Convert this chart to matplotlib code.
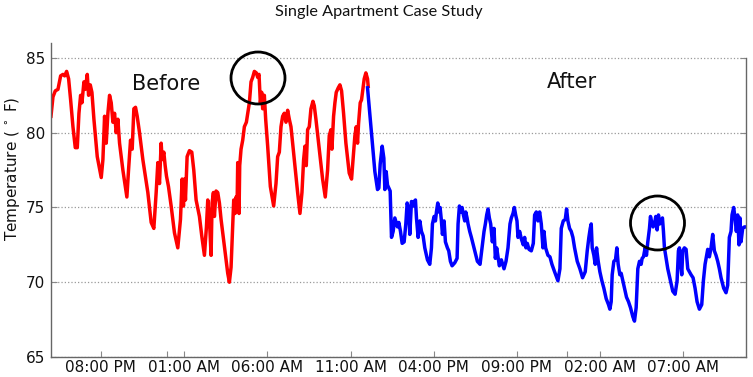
import numpy as np
import matplotlib
matplotlib.use("Agg")
import matplotlib.pyplot as plt
import matplotlib.dates as mdates
from matplotlib.patches import Ellipse
from datetime import datetime, timedelta

# ---- data ----
start_time = datetime(2014, 7, 14, 17, 0)   # 05:00 PM

before_hours = [0.00, 0.12, 0.26, 0.42, 0.58, 0.72, 0.82, 0.94, 1.06, 1.18, 1.32, 1.46, 1.58, 1.68, 1.78,
                1.86, 1.98, 2.06, 2.18, 2.26, 2.36, 2.46, 2.58, 2.78, 3.02, 3.12, 3.22, 3.32, 3.42, 3.52,
                3.62, 3.72, 3.82, 3.92, 4.02, 4.12, 4.32, 4.56, 4.66, 4.78, 4.88, 4.98, 5.08, 5.18, 5.32,
                5.52, 5.82, 6.02, 6.18, 6.32, 6.42, 6.52, 6.62, 6.68, 6.78, 6.86, 6.94, 7.06, 7.22, 7.42,
                7.62, 7.78, 7.88, 7.96, 8.02, 8.08, 8.18, 8.32, 8.46, 8.58, 8.72, 8.92, 9.06, 9.22, 9.34,
                9.42, 9.52, 9.62, 9.68, 9.76, 9.82, 9.92, 10.02, 10.12, 10.22, 10.42, 10.62, 10.72, 10.82,
                10.92, 10.98, 11.06, 11.12, 11.18, 11.22, 11.30, 11.34, 11.42, 11.52, 11.62, 11.74, 11.82,
                11.92, 12.02, 12.12, 12.22, 12.34, 12.42, 12.50, 12.58, 12.66, 12.72, 12.82, 12.90, 13.02,
                13.18, 13.38, 13.52, 13.62, 13.72, 13.82, 13.92, 14.02, 14.12, 14.22, 14.32, 14.42, 14.62,
                14.82, 14.96, 15.08, 15.18, 15.26, 15.34, 15.42, 15.52, 15.62, 15.74, 15.82, 15.92, 16.12,
                16.32, 16.48, 16.62, 16.72, 16.82, 16.88, 16.98, 17.06, 17.14, 17.26, 17.36, 17.46, 17.58,
                17.72, 17.92, 18.06, 18.18, 18.26, 18.34, 18.42, 18.48, 18.58, 18.66, 18.74, 18.82, 18.92,
                19.02, 19.06]
before_temp = [81.1, 82.4, 82.8, 82.9, 83.8, 83.9, 83.8, 84.1, 83.6, 82.2, 80.4, 79.0, 79.0, 81.3, 82.5,
               82.0, 83.4, 82.9, 83.9, 82.5, 83.2, 82.7, 80.9, 78.4, 77.0, 78.2, 81.1, 79.3, 81.3, 82.5,
               82.0, 80.7, 81.3, 80.0, 80.9, 79.3, 77.5, 75.7, 77.5, 79.5, 78.9, 81.6, 81.7, 81.1, 80.0,
               78.2, 76.0, 74.0, 73.6, 76.0, 78.0, 76.6, 79.3, 78.2, 78.7, 77.8, 77.1, 76.4, 75.1, 73.3,
               72.3, 74.2, 76.9, 75.1, 76.9, 75.5, 78.4, 78.8, 78.7, 77.5, 75.5, 74.4, 73.1, 71.8, 73.7,
               75.5, 74.2, 71.8, 75.3, 76.0, 74.4, 76.1, 76.0, 75.3, 74.2, 72.4, 70.6, 70.0, 71.0,
               73.7, 75.5, 74.6, 75.7, 74.9, 78.0, 74.6, 77.8, 78.9, 79.5, 80.4, 80.7, 81.3,
               82.0, 83.4, 83.7, 84.1, 84.0, 83.7, 83.9, 82.0, 82.7, 81.6, 82.5, 80.9, 79.1,
               76.4, 75.1, 76.6, 78.4, 78.7, 80.4, 81.1, 81.3, 80.7, 81.5, 80.9, 80.4, 78.2,
               76.0, 74.6, 76.0, 78.2, 79.1, 77.8, 80.2, 80.4, 81.6, 82.1, 81.8, 80.9, 78.9,
               76.9, 75.7, 77.5, 79.8, 80.2, 78.9, 81.1, 82.0, 82.7, 83.0, 83.2, 82.8, 81.3,
               79.3, 77.3, 76.9, 78.7, 79.8, 80.4, 79.3, 80.6, 82.0, 82.2, 82.9, 83.6, 84.0,
               83.6, 83.1]

after_hours = [19.02, 19.16, 19.30, 19.46, 19.62, 19.70, 19.78, 19.90, 20.00, 20.06, 20.14, 20.22, 20.30,
               20.38, 20.46, 20.56, 20.66, 20.74, 20.82, 20.90, 21.00, 21.10, 21.22, 21.32, 21.40, 21.48,
               21.56, 21.66, 21.76, 21.82, 21.90, 21.96, 22.06, 22.16, 22.26, 22.36, 22.46, 22.62, 22.76,
               22.86, 22.92, 23.02, 23.10, 23.16, 23.24, 23.30, 23.38, 23.46, 23.52, 23.62, 23.70, 23.82,
               23.90, 24.00, 24.10, 24.26, 24.40, 24.46, 24.54, 24.62, 24.70, 24.78, 24.86, 24.92, 25.00,
               25.06, 25.16, 25.26, 25.42, 25.62, 25.78, 25.90, 26.02, 26.10, 26.18, 26.26, 26.34, 26.42,
               26.52, 26.62, 26.70, 26.78, 26.86, 26.94, 27.06, 27.22, 27.34, 27.46, 27.58, 27.66, 27.76,
               27.84, 27.92, 28.00, 28.06, 28.16, 28.26, 28.38, 28.46, 28.54, 28.62, 28.72, 28.86, 28.98,
               29.06, 29.16, 29.26, 29.36, 29.46, 29.56, 29.62, 29.72, 29.86, 29.98, 30.10, 30.26, 30.46,
               30.58, 30.66, 30.78, 30.90, 30.98, 31.06, 31.16, 31.26, 31.36, 31.46, 31.62, 31.78, 31.94,
               32.10, 32.22, 32.32, 32.40, 32.46, 32.52, 32.62, 32.70, 32.78, 32.88, 32.98, 33.10, 33.22,
               33.36, 33.50, 33.58, 33.66, 33.72, 33.82, 33.92, 34.00, 34.08, 34.18, 34.26, 34.36, 34.46,
               34.58, 34.70, 34.82, 34.96, 35.06, 35.16, 35.26, 35.36, 35.46, 35.52, 35.60, 35.70, 35.78,
               35.86, 35.96, 36.02, 36.10, 36.18, 36.26, 36.34, 36.42, 36.50, 36.58, 36.66, 36.74, 36.80,
               36.86, 36.96, 37.06, 37.22, 37.36, 37.50, 37.62, 37.70, 37.76, 37.82, 37.90, 37.96, 38.06,
               38.16, 38.26, 38.36, 38.46, 38.58, 38.70, 38.82, 38.96, 39.10, 39.20, 39.30, 39.38, 39.46,
               39.56, 39.66, 39.76, 39.86, 39.96, 40.06, 40.16, 40.26, 40.42, 40.56, 40.66, 40.76, 40.86,
               40.92, 41.02, 41.10, 41.18, 41.26, 41.34, 41.40, 41.46, 41.56, 41.66, 41.76]
after_temp = [83.0, 81.2, 79.4, 77.4, 76.2, 76.3, 77.9, 79.1, 78.3, 76.2, 77.4, 76.5, 76.3,
              76.1, 73.0, 73.4, 74.3, 74.0, 73.7, 74.0, 73.4, 72.6, 72.7, 73.9, 75.3, 75.0,
              73.2, 75.4, 75.1, 75.4, 75.5, 74.3, 73.0, 74.1, 73.4, 73.1, 72.3, 71.5, 71.2,
              72.3, 73.9, 74.4, 74.1, 74.7, 75.3, 74.7, 75.0, 74.1, 73.2, 74.1, 72.7, 72.3,
              72.1, 71.4, 71.1, 71.3, 71.6, 73.9, 75.1, 74.7, 75.0, 74.5, 74.1, 74.7, 74.3,
              73.9, 73.4, 73.0, 72.3, 71.4, 71.2, 72.3, 73.4, 73.9, 74.5, 74.9, 74.3, 73.9,
              72.7, 73.6, 71.6, 72.3, 71.7, 71.1, 71.5, 70.9, 71.4, 72.3, 73.9, 74.3, 74.6,
              75.0, 74.5, 74.1, 73.0, 73.4, 72.9, 72.5, 73.0, 72.3, 72.6, 72.2, 72.1, 72.6,
              74.5, 74.7, 74.1, 74.7, 73.9, 72.3, 73.4, 72.3, 71.8, 71.7, 71.2, 70.7, 70.1,
              70.9, 73.6, 74.1, 74.2, 74.9, 74.1, 73.6, 73.4, 73.0, 72.3, 71.4, 70.9, 70.3,
              70.7, 72.1, 73.0, 73.6, 73.9, 72.3, 71.8, 71.2, 72.3, 71.4, 70.7, 70.1, 69.6,
              68.9, 68.5, 68.2, 68.7, 70.5, 71.4, 71.5, 72.3, 71.2, 70.5, 70.6, 70.1, 69.6,
              69.0, 68.7, 68.3, 67.7, 67.4, 68.3, 70.9, 71.4, 71.2, 71.6, 71.7, 72.3, 71.8,
              72.7, 73.6, 74.4, 74.0, 73.7, 73.9, 74.4, 73.5, 74.5, 73.9, 74.1, 74.3, 73.4,
              72.3, 71.6, 70.9, 70.1, 69.4, 69.2, 70.1, 72.1, 72.3, 71.4, 70.5, 72.1, 72.3,
              72.2, 70.9, 70.7, 70.5, 70.3, 69.6, 68.7, 68.2, 68.5, 70.1, 71.2, 71.7, 72.2,
              71.7, 72.3, 73.2, 72.1, 71.8, 71.4, 70.9, 70.3, 69.6, 69.3, 69.8, 73.0, 73.4,
              74.5, 75.0, 74.3, 73.4, 74.5, 72.5, 74.3, 72.7, 73.6, 73.7, 73.7]

label_tick_hours = [3, 8, 13, 18, 23, 28, 33, 38]
midnight_tick_hours = [7, 31]
y_ticks = [65, 70, 75, 80, 85]

# ---- plot ----
def to_dates(hours):
    return [start_time + timedelta(hours=h) for h in hours]

plt.rcParams['font.family'] = ['DejaVu Sans']
fig = plt.figure(figsize=(7.53, 3.77), dpi=100)
ax = fig.add_axes([0.0677, 0.053, 0.923, 0.833])

before_x = to_dates(before_hours)
after_x = to_dates(after_hours)
ax.plot(before_x, before_temp, color='#ff0000', lw=2.5, solid_joinstyle='round')
ax.plot(after_x, after_temp, color='#0000ff', lw=2.5, solid_joinstyle='round')

ax.set_xlim(before_x[0], after_x[-1])
ax.set_ylim(65, 86)
ax.set_yticks(y_ticks)
ax.grid(axis='y', linestyle=':', color='#999999', lw=0.9)
ax.set_axisbelow(True)

tick_dates = to_dates(label_tick_hours)
ax.set_xticks(tick_dates)
ax.set_xticklabels([d.strftime('%I:%M %p') for d in tick_dates])
ax.set_xticks(to_dates(midnight_tick_hours), minor=True)

ax.tick_params(axis='both', which='both', direction='in', length=4, width=0.8,
               color='#888888', labelsize=11, labelcolor='#111111')
ax.tick_params(axis='y', which='both', right=True, pad=4)
ax.tick_params(axis='x', which='both', top=False, pad=2)

for s in ['left', 'bottom', 'right']:
    ax.spines[s].set_color('#666666')
    ax.spines[s].set_linewidth(1.0)
ax.spines['top'].set_visible(False)
ax.spines['right'].set_bounds(65, 85)

ax.set_ylabel('Temperature ($\\,^\\circ$ F)', fontsize=11, color='#111111')
ax.yaxis.set_label_coords(-0.041, 0.6)

fig.text(0.503, 0.968, 'Single Apartment Case Study', ha='center', va='center',
         fontsize=11.7, family=['Lato', 'DejaVu Sans'], color='#111111')

fig.text(166 / 753, 1 - 84 / 377, 'Before', ha='center', va='center', fontsize=15, color='#111111')
fig.text(572 / 753, 1 - 82 / 377, 'After', ha='center', va='center', fontsize=15, color='#111111')

for cx, cy, w, h in [(258, 78, 54, 52), (657.5, 223, 54, 54)]:
    e = Ellipse((cx / 100, (377 - cy) / 100), w / 100, h / 100, transform=fig.dpi_scale_trans,
                fill=False, edgecolor='black', lw=2.0)
    fig.add_artist(e)

fig.savefig('out.png', dpi=100)
